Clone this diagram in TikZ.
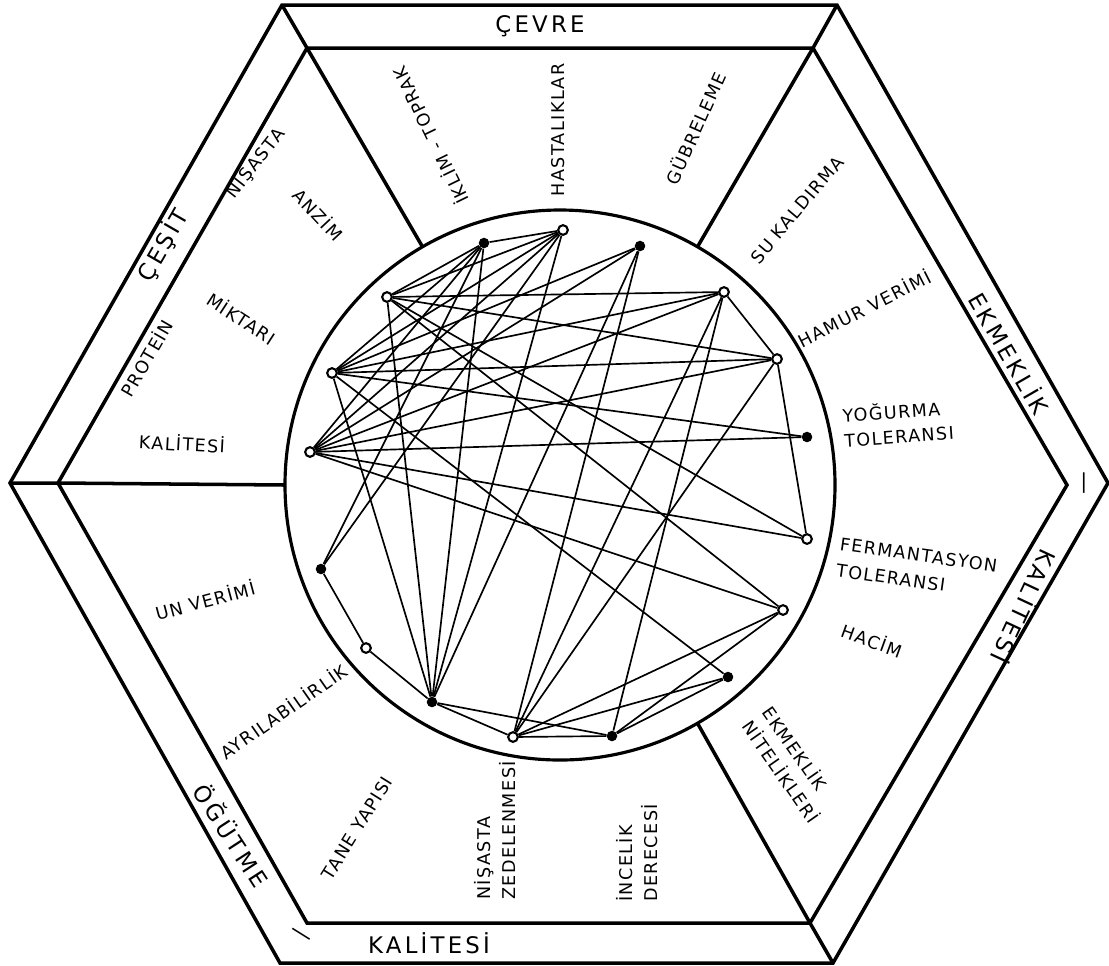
\documentclass[tikz,border=0pt]{standalone}
\usepackage{fontspec}
\setmainfont{DejaVu Sans}
\newfontfamily\handfont[LetterSpace=8]{DejaVu Sans}
\newfontfamily\bandhand[LetterSpace=14]{DejaVu Sans}
\usetikzlibrary{positioning}

\newcommand{\lblfont}{\handfont\fontsize{10}{12}\selectfont}
\newcommand{\bandfont}{\bandhand\fontsize{13}{15}\selectfont}

\tikzset{
  hexline/.style={line width=2pt, line join=miter},
  ringline/.style={line width=1.8pt},
  link/.style={line width=0.95pt},
  dotfull/.style={circle, fill=black, inner sep=0pt, minimum size=6pt},
  dotring/.style={circle, draw=black, line width=1.2pt, fill=white, inner sep=0pt, minimum size=5.5pt},
  lbl/.style={font=\lblfont, inner sep=0pt},
  bandlbl/.style={font=\bandfont, inner sep=0pt}
}

\begin{document}
\begin{tikzpicture}[x=0.02cm, y=-0.02cm]
  \useasboundingbox (0,0) rectangle (1109,965);

  % Outer hexagon
  \coordinate (o1) at (282,5);
  \coordinate (o2) at (837,5);
  \coordinate (o3) at (1108,483);
  \coordinate (o4) at (833,963);
  \coordinate (o5) at (280,963);
  \coordinate (o6) at (10,483);
  \draw[hexline] (o1) -- (o2) -- (o3) -- (o4) -- (o5) -- (o6) -- cycle;

  % Inner hexagon
  \coordinate (i1) at (307,48);
  \coordinate (i2) at (813,48);
  \coordinate (i3) at (1067,485);
  \coordinate (i4) at (810,923);
  \coordinate (i5) at (307,923);
  \coordinate (i6) at (58,483);
  \draw[hexline] (i1) -- (i2) -- (i3) -- (i4) -- (i5) -- (i6) -- cycle;
  \draw[hexline] (o1) -- (i1) (o2) -- (i2) (o4) -- (i4) (o6) -- (i6);

  % Circle and sector borders
  \coordinate (ctr) at (560,485);
  \draw[ringline] (ctr) circle[radius=275];
  \coordinate (c1) at (422.5,246.8);
  \coordinate (c2) at (697.5,246.8);
  \coordinate (c3) at (285,485);
  \coordinate (c4) at (697.5,723.2);
  \draw[hexline] (c1) -- (i1) (c2) -- (i2) (c3) -- (i6) (c4) -- (i4);

  % Band titles
  \node[bandlbl] (cevre) at (540,26) {ÇEVRE};
  \node[bandlbl, rotate=60] (cesit) at (163,245) {ÇEŞİT};
  \node[bandlbl, rotate=-60] (ekmeklik) at (1010,353) {EKMEKLİK};
  \node[bandlbl, rotate=90] (dashr) at (1087,483) {—};
  \node[bandlbl, rotate=-115] (kalr) at (1025,607) {KALİTESİ};
  \node[bandlbl] (kalb) at (429,943) {KALİTESİ};
  \node[bandlbl, rotate=-32] (dashb) at (300,937) {—};
  \node[bandlbl, rotate=-57] (ogutme) at (232,835) {ÖĞÜTME};

  % Cevre factors
  \node[lbl, rotate=116] (tiklim) at (430,136) {İKLİM - TOPRAK};
  \node[lbl, rotate=90] (thasta) at (558,130) {HASTALIKLAR};
  \node[lbl, rotate=66] (tgubre) at (695,128) {GÜBRELEME};

  % Cesit factors
  \node[lbl, rotate=52] (tnisasta) at (255,163) {NİŞASTA};
  \node[lbl, rotate=-47] (tanzim) at (319,214) {ANZİM};
  \node[lbl, rotate=60] (tprotein) at (146,358) {PROTEİN};
  \node[lbl, rotate=-33] (tmiktar) at (242,318) {MİKTARI};
  \node[lbl, rotate=-3] (tkalite) at (182,443) {KALİTESİ};

  % Ogutme factors
  \node[lbl, rotate=15] (tunverim) at (205,600) {UN VERİMİ};
  \node[lbl, rotate=35] (tayril) at (283,711) {AYRILABİLİRLİK};
  \node[lbl, rotate=58] (ttane) at (357,828) {TANE YAPISI};
  \node[lbl, rotate=90, anchor=west, align=left] (tzedel) at (495,900) {NİŞASTA\\[2pt]ZEDELENMESİ};
  \node[lbl, rotate=90, anchor=west, align=left] (tincelik) at (637,902) {İNCELİK\\[2pt]DERECESİ};

  % Ekmeklik factors
  \node[lbl, rotate=50] (tsukald) at (797,210) {SU KALDIRMA};
  \node[lbl, rotate=27] (thamur) at (864,308) {HAMUR VERİMİ};
  \node[lbl, rotate=4, anchor=west, align=left] (tyogurma) at (843,427) {YOĞURMA\\[2pt]TOLERANSI};
  \node[lbl, rotate=-8, anchor=west, align=left] (tferment) at (838,557) {FERMANTASYON\\[3pt]TOLERANSI};
  \node[lbl, rotate=-20] (thacim) at (872,640) {HACİM};
  \node[lbl, rotate=-55, align=left] (tnitelik) at (792,764) {EKMEKLİK\\[2pt]NİTELİKLERİ};

  % Points on the ring
  \node[dotring] (hastalik) at (563,230) {};
  \node[dotfull] (iklim) at (484,243) {};
  \node[dotfull] (gubre) at (640,246) {};
  \node[dotring] (nisasta) at (387,297) {};
  \node[dotring] (miktar) at (332,373) {};
  \node[dotring] (kalite) at (310,452) {};
  \node[dotring] (sukald) at (724,292) {};
  \node[dotring] (hamur) at (777,359) {};
  \node[dotfull] (yogurma) at (807,437) {};
  \node[dotring] (ferment) at (807,539) {};
  \node[dotring] (hacim) at (783,610) {};
  \node[dotfull] (nitelik) at (728,677) {};
  \node[dotfull] (incelik) at (612,736) {};
  \node[dotring] (zedel) at (513,737) {};
  \node[dotfull] (tane) at (432,702) {};
  \node[dotring] (ayril) at (366,648) {};
  \node[dotfull] (unverim) at (321,569) {};

  % Links from the cevre points
  \draw[link] (hastalik) -- (iklim);
  \draw[link] (hastalik) -- (nisasta);
  \draw[link] (hastalik) -- (miktar);
  \draw[link] (hastalik) -- (kalite);
  \draw[link] (hastalik) -- (tane);
  \draw[link] (hastalik) -- (unverim);
  \draw[link] (iklim) -- (nisasta);
  \draw[link] (iklim) -- (miktar);
  \draw[link] (iklim) -- (kalite);
  \draw[link] (iklim) -- (tane);
  \draw[link] (iklim) -- (unverim);
  \draw[link] (gubre) -- (miktar);
  \draw[link] (gubre) -- (kalite);
  \draw[link] (gubre) -- (tane);
  \draw[link] (gubre) -- (zedel);

  % Links from the cesit points
  \draw[link] (nisasta) -- (sukald);
  \draw[link] (nisasta) -- (hamur);
  \draw[link] (nisasta) -- (ferment);
  \draw[link] (nisasta) -- (hacim);
  \draw[link] (nisasta) -- (tane);
  \draw[link] (miktar) -- (sukald);
  \draw[link] (miktar) -- (hamur);
  \draw[link] (miktar) -- (yogurma);
  \draw[link] (miktar) -- (nitelik);
  \draw[link] (miktar) -- (tane);
  \draw[link] (kalite) -- (sukald);
  \draw[link] (kalite) -- (hamur);
  \draw[link] (kalite) -- (yogurma);
  \draw[link] (kalite) -- (ferment);
  \draw[link] (kalite) -- (hacim);

  % Links from the ogutme points
  \draw[link] (unverim) -- (ayril);
  \draw[link] (ayril) -- (tane);
  \draw[link] (tane) -- (zedel);
  \draw[link] (tane) -- (incelik);
  \draw[link] (zedel) -- (incelik);
  \draw[link] (zedel) -- (sukald);
  \draw[link] (zedel) -- (hamur);
  \draw[link] (zedel) -- (hacim);
  \draw[link] (zedel) -- (nitelik);
  \draw[link] (incelik) -- (sukald);
  \draw[link] (incelik) -- (hacim);
  \draw[link] (incelik) -- (nitelik);

  % Links among the ekmeklik points
  \draw[link] (sukald) -- (hamur);
  \draw[link] (hamur) -- (ferment);
\end{tikzpicture}
\end{document}
